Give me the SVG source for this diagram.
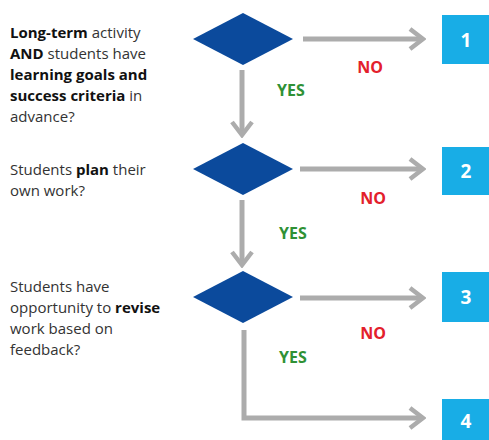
<svg xmlns="http://www.w3.org/2000/svg" width="489" height="440" viewBox="0 0 489 440">
<defs>
<style>
.q{font-family:"Open Sans","Noto Sans","DejaVu Sans",sans-serif;font-size:15px;fill:#333}
.b{font-weight:bold;fill:#111}
.dia{fill:#0b4a9c}
.box{fill:#18ade6}
.num{font-family:"Open Sans","Noto Sans",sans-serif;font-size:19px;font-weight:bold;fill:#fff;text-anchor:middle}
.no{font-family:"Open Sans","Noto Sans",sans-serif;font-size:16px;font-weight:bold;fill:#e3202b;text-anchor:middle}
.yes{font-family:"Open Sans","Noto Sans",sans-serif;font-size:16px;font-weight:bold;fill:#2f9135;text-anchor:middle}
.ln{fill:none;stroke:#acacac;stroke-width:5}
</style>
<marker id="ah" viewBox="0 0 20 24" refX="17" refY="12" markerWidth="20" markerHeight="24" markerUnits="userSpaceOnUse" orient="auto">
<path d="M4,2 L17,12 L4,22" fill="none" stroke="#acacac" stroke-width="4.5"/>
</marker>
</defs>
<rect width="489" height="440" fill="#fff"/>
<g id="connectors">
<line class="ln" x1="303" y1="39" x2="423" y2="39" marker-end="url(#ah)"/>
<line class="ln" x1="242" y1="70" x2="242" y2="135" marker-end="url(#ah)"/>
<line class="ln" x1="300" y1="169" x2="423" y2="169" marker-end="url(#ah)"/>
<line class="ln" x1="242" y1="200" x2="242" y2="265" marker-end="url(#ah)"/>
<line class="ln" x1="300" y1="298" x2="423" y2="298" marker-end="url(#ah)"/>
<path class="ln" d="M244,330 V418 H423" marker-end="url(#ah)"/>
<text class="no" x="370" y="73">NO</text>
<text class="yes" x="291" y="96">YES</text>
<text class="no" x="373" y="204">NO</text>
<text class="yes" x="293" y="239">YES</text>
<text class="no" x="373" y="339">NO</text>
<text class="yes" x="293" y="363">YES</text>
</g>
<g id="q1">
<text class="q" x="10" y="38"><tspan class="b">Long-term</tspan> activity</text>
<text class="q" x="10" y="59"><tspan class="b">AND</tspan> students have</text>
<text class="q" x="10" y="80"><tspan class="b">learning goals and</tspan></text>
<text class="q" x="10" y="101"><tspan class="b">success criteria</tspan> in</text>
<text class="q" x="10" y="122">advance?</text>
<polygon class="dia" points="193,39 243,13 293,39 243,65"/>
</g>
<g id="q2">
<text class="q" x="10" y="175">Students <tspan class="b">plan</tspan> their</text>
<text class="q" x="10" y="196">own work?</text>
<polygon class="dia" points="193,169 243,143 293,169 243,195"/>
</g>
<g id="q3">
<text class="q" x="10" y="292">Students have</text>
<text class="q" x="10" y="313">opportunity to <tspan class="b">revise</tspan></text>
<text class="q" x="10" y="334">work based on</text>
<text class="q" x="10" y="355">feedback?</text>
<polygon class="dia" points="193,297 243,271 293,297 243,323"/>
</g>
<g id="o1"><rect class="box" x="442" y="15" width="47" height="49"/><text class="num" x="466" y="47">1</text></g>
<g id="o2"><rect class="box" x="442" y="147" width="47" height="48"/><text class="num" x="466" y="178">2</text></g>
<g id="o3"><rect class="box" x="442" y="272" width="47" height="50"/><text class="num" x="466" y="304">3</text></g>
<g id="o4"><rect class="box" x="442" y="399" width="47" height="41"/><text class="num" x="466" y="428">4</text></g>
</svg>
